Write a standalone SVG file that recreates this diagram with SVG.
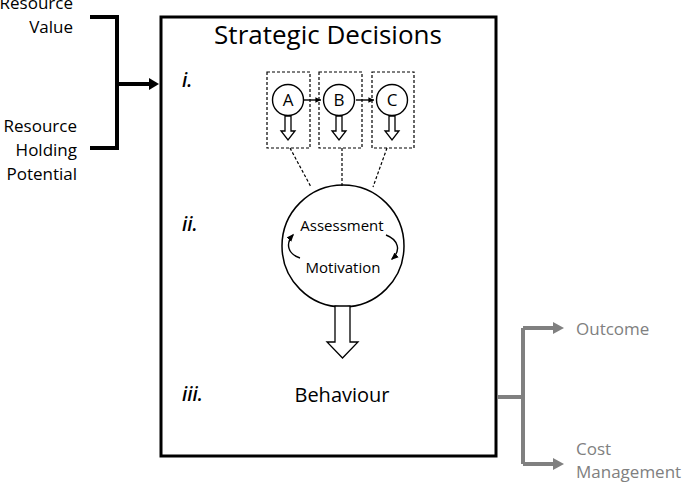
<svg xmlns="http://www.w3.org/2000/svg" width="685" height="482" viewBox="0 0 685 482">
<defs>
<style>
text{font-family:"Open Sans","Liberation Sans",sans-serif;fill:#000}
.lab{font-size:17px}
.gray{fill:#808080;font-size:17px}
.ital{font-style:italic;font-size:19px;font-weight:600}
.dash{fill:none;stroke:#000;stroke-width:1.2;stroke-dasharray:3,2}
.thin{fill:none;stroke:#000;stroke-width:1.4}
.hollow{fill:#fff;stroke:#000;stroke-width:1.3}
</style>
<marker id="ab" viewBox="0 0 10 10" refX="10" refY="5" markerWidth="4" markerHeight="4" orient="auto"><path d="M0,0L10,5L0,10z" fill="#000"/></marker>
<marker id="ac" viewBox="0 0 10 10" refX="8" refY="5" markerWidth="5.5" markerHeight="5.5" orient="auto"><path d="M0,1L10,5L0,9z" fill="#000"/></marker>
</defs>
<g id="inputs">
<text class="lab" text-anchor="end" x="73" y="9">Resource</text>
<text class="lab" text-anchor="end" x="73" y="33">Value</text>
<text class="lab" text-anchor="end" x="77" y="132">Resource</text>
<text class="lab" text-anchor="end" x="77" y="156">Holding</text>
<text class="lab" text-anchor="end" x="77" y="180">Potential</text>
</g>
<g id="main-box">
<rect x="161" y="17" width="335" height="439" fill="#fff" stroke="#000" stroke-width="3"/>
<text x="328" y="44" text-anchor="middle" font-size="26">Strategic Decisions</text>
<text class="ital" x="182" y="87">i.</text>
<text class="ital" x="182" y="231">ii.</text>
<text class="ital" x="182" y="401">iii.</text>
</g>
<g id="nodeA">
<rect class="dash" x="267" y="72" width="43" height="76"/>
<circle class="thin" cx="288" cy="100" r="15.5" fill="#fff"/>
<text x="288" y="106" text-anchor="middle" font-size="17">A</text>
<path class="hollow" d="M285,116H291V131H295L288,140L281,131H285Z"/>
</g>
<g id="nodeB">
<rect class="dash" x="319" y="72" width="43" height="76"/>
<circle class="thin" cx="339" cy="100" r="15.5" fill="#fff"/>
<text x="339" y="106" text-anchor="middle" font-size="17">B</text>
<path class="hollow" d="M336,116H342V131H346L339,140L332,131H336Z"/>
</g>
<g id="nodeC">
<rect class="dash" x="372" y="72" width="42" height="76"/>
<circle class="thin" cx="392" cy="100" r="15.5" fill="#fff"/>
<text x="392" y="106" text-anchor="middle" font-size="17">C</text>
<path class="hollow" d="M389,116H395V131H399L392,140L385,131H389Z"/>
</g>
<g id="assessment">
<circle cx="343" cy="246" r="61" fill="#fff" stroke="#000" stroke-width="1.5"/>
<text x="342" y="231" text-anchor="middle" font-size="15">Assessment</text>
<text x="343" y="273" text-anchor="middle" font-size="15">Motivation</text>
<path class="thin" d="M300,258C288,254 285,244 293,235" marker-end="url(#ac)"/>
<path class="thin" d="M386,235C399,240 401,251 392,259" marker-end="url(#ac)"/>
<path fill="#fff" stroke="#000" stroke-width="1.3" d="M335,306H350V342H358L342.5,358L327,342H335Z"/>
</g>
<g id="behaviour">
<text x="342" y="402" text-anchor="middle" font-size="20">Behaviour</text>
</g>
<g id="outputs">
<text class="gray" x="576" y="335">Outcome</text>
<text class="gray" x="576" y="455">Cost</text>
<text class="gray" x="576" y="478">Management</text>
</g>
<g id="connectors">
<path d="M90,17H117V148H90M117,84H150" fill="none" stroke="#000" stroke-width="4"/>
<path d="M149,78L159,84L149,90Z" fill="#000"/>
<path class="thin" d="M304,100H321" marker-end="url(#ab)"/>
<path class="thin" d="M356,100H374" marker-end="url(#ab)"/>
<path class="dash" d="M290,148L311,187M342,148V186M387,148L373,187"/>
<path d="M498,397H523M523,328V464M523,328H555M523,464H555" fill="none" stroke="#808080" stroke-width="4"/>
<path d="M553,322L564,328L553,334Z" fill="#808080"/>
<path d="M553,458L564,464L553,470Z" fill="#808080"/>
</g>
</svg>
